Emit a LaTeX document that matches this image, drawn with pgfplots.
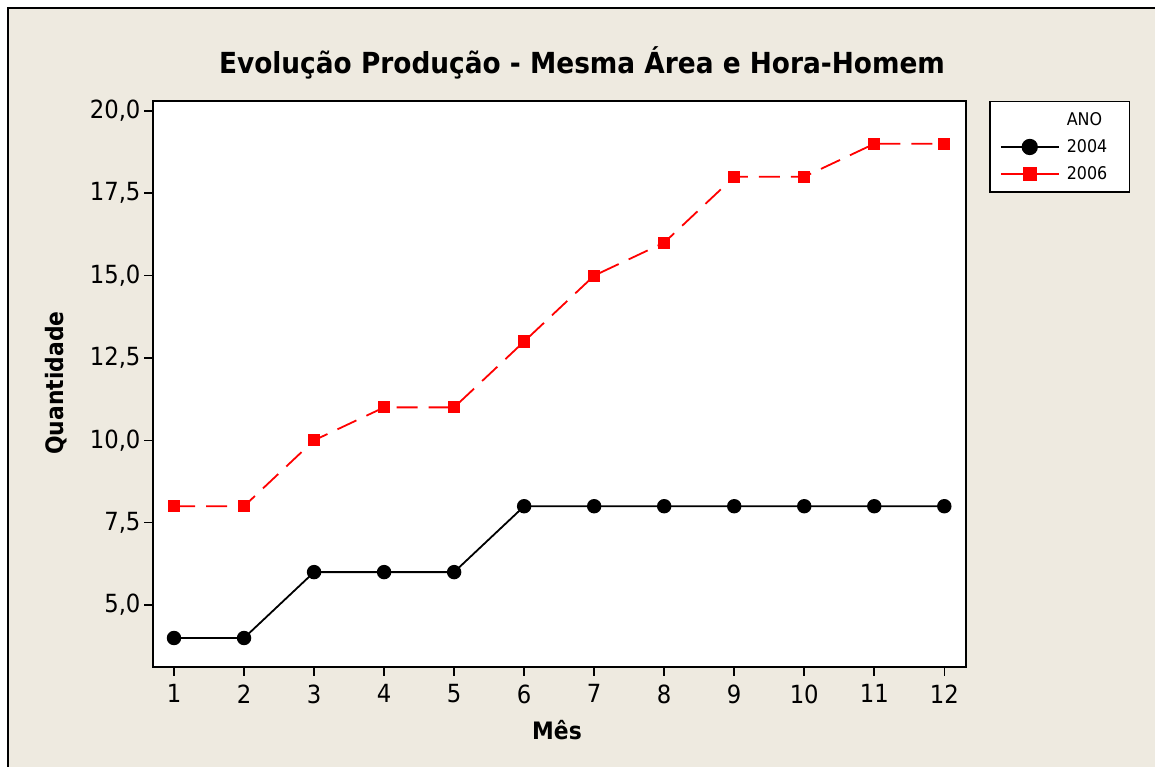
\documentclass[border=0pt]{standalone}
\usepackage{pgfplots}
\pgfplotsset{compat=1.18}
\usepackage{fontspec}
\setmainfont{DejaVu Sans}[FakeStretch=0.91]
\definecolor{bgc}{RGB}{238,234,224}
\begin{document}
\begin{tikzpicture}[x=1pt,y=1pt]
\useasboundingbox (0,0) rectangle (1155,767);
\fill[white] (0,0) rectangle (1155,767);
\fill[bgc] (8,0) rectangle (1155,759);
\draw[line width=2pt] (8,0) -- (8,759) -- (1155,759);
\begin{axis}[
  at={(153pt,100pt)}, anchor=south west,
  scale only axis, width=813pt, height=566pt,
  xmin=0.7, xmax=12.31, ymin=3.12, ymax=20.30,
  axis background/.style={fill=white},
  axis line style={line width=1.6pt},
  tick style={line width=1.6pt, black},
  tick align=outside, major tick length=9pt,
  xtick={1,...,12}, ytick={5,7.5,10,12.5,15,17.5,20},
  tick pos=left,
  ticklabel style={font=\fontsize{25}{29}\selectfont},
  /pgf/number format/assume math mode=true,
  yticklabel style={/pgf/number format/.cd, fixed, fixed zerofill, precision=1, use comma},
  xticklabel style={yshift=-5pt},
  legend style={at={(rel axis cs:1.0283,1)}, anchor=north west, draw=black, line width=1.5pt, fill=white,
     font=\fontsize{17.5}{21}\selectfont, row sep=8.5pt, inner xsep=2pt, inner ysep=9pt, cells={anchor=west}},
  legend cell align=left,
  legend image code/.code={\path[draw=none] (-9pt,0pt) -- (64pt,0pt);
     \draw[solid, line width=1.8pt, mark repeat=2, mark phase=2, every mark/.append style={scale=1.15}] plot coordinates {(0pt,0pt) (29pt,0pt) (58pt,0pt)};},
]
\addlegendimage{empty legend}
\addlegendentry{ANO}
\addplot[black, line width=1.8pt, mark=*, mark size=6.3pt, mark options={solid, fill=black}]
  coordinates {(1,4) (2,4) (3,6) (4,6) (5,6) (6,8) (7,8) (8,8) (9,8) (10,8) (11,8) (12,8)};
\addlegendentry{2004\hspace*{18pt}}
\addplot[red, line width=1.8pt, dash pattern=on 21pt off 11pt, mark=square*, mark size=5.2pt, mark options={solid, fill=red}]
  coordinates {(1,8) (2,8) (3,10) (4,11) (5,11) (6,13) (7,15) (8,16) (9,18) (10,18) (11,19) (12,19)};
\addlegendentry{2006}
\end{axis}
\node[font=\bfseries\fontsize{29}{34}\selectfont] at (582,704) {Evolução Produção - Mesma Área e Hora-Homem};
\node[font=\bfseries\fontsize{24}{28}\selectfont, rotate=90] at (56,384) {Quantidade};
\node[font=\bfseries\fontsize{24}{28}\selectfont] at (557,37) {Mês};
\end{tikzpicture}
\end{document}
